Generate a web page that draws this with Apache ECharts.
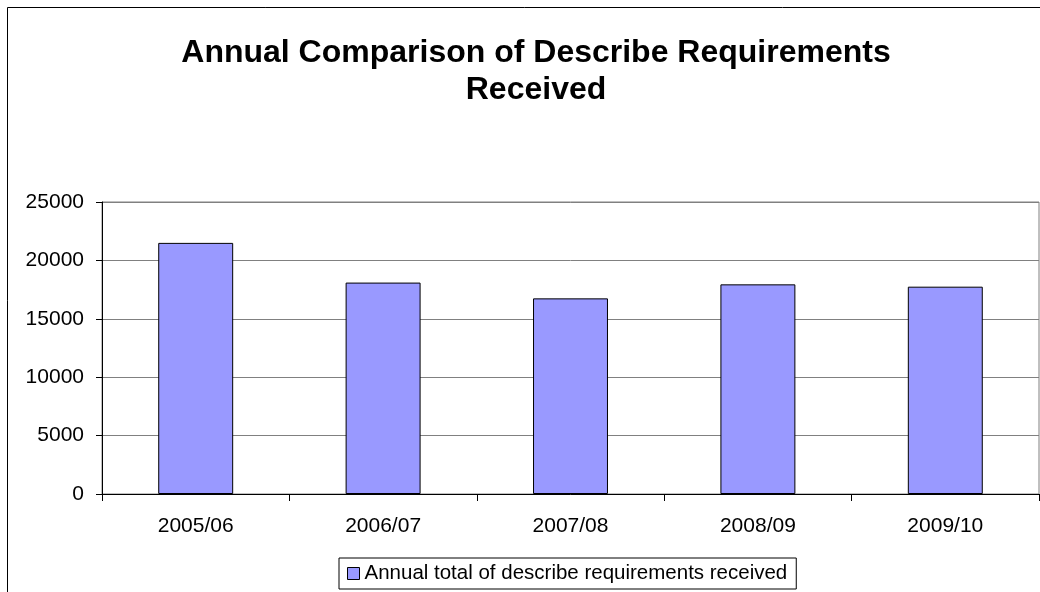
<!DOCTYPE html>
<html>
<head>
<meta charset="utf-8">
<script src="https://cdn.jsdelivr.net/npm/echarts@6/dist/echarts.min.js"></script>
<style>
html,body{margin:0;padding:0;background:#fff;}
#chart{width:1040px;height:592px;}
</style>
</head>
<body>
<div id="chart"></div>
<script>
const titleText = 'Annual Comparison of Describe Requirements\nReceived';
const categories = ['2005/06', '2006/07', '2007/08', '2008/09', '2009/10'];
const seriesName = 'Annual total of describe requirements received';
const seriesValues = [21500, 18100, 16750, 17950, 17750];
const yTicks = [0, 5000, 10000, 15000, 20000, 25000];

const FONT = '"Liberation Sans", Arial, sans-serif';
const chart = echarts.init(document.getElementById('chart'), null, {renderer: 'canvas'});
chart.setOption({
  backgroundColor: '#ffffff',
  animation: false,
  graphic: [{
    type: 'rect',
    shape: {x: 7.5, y: 7.5, width: 1200, height: 1000},
    style: {fill: 'none', stroke: '#000000', lineWidth: 1},
    silent: true,
    z: -10
  }],
  title: {
    text: titleText,
    left: 531,
    textAlign: 'center',
    top: 30,
    textStyle: {fontFamily: FONT, fontSize: 32, fontWeight: 'bold', color: '#000', lineHeight: 37}
  },
  legend: {
    data: [seriesName],
    left: 339,
    top: 558,
    padding: [5, 9, 5, 8],
    borderColor: '#000',
    borderWidth: 1,
    itemWidth: 12,
    itemHeight: 12,
    icon: 'rect',
    itemStyle: {borderColor: '#000', borderWidth: 1},
    textStyle: {fontFamily: FONT, fontSize: 20.5, color: '#000'}
  },
  grid: {
    left: 102, top: 202, right: 1, bottom: 98,
    show: true, borderColor: '#808080', borderWidth: 1
  },
  xAxis: {
    type: 'category',
    data: categories,
    boundaryGap: true,
    axisLine: {show: true, lineStyle: {color: '#000', width: 1}},
    axisTick: {show: true, alignWithLabel: false, length: 7, lineStyle: {color: '#000'}},
    axisLabel: {fontFamily: FONT, fontSize: 21, color: '#000', margin: 22}
  },
  yAxis: {
    type: 'value',
    min: yTicks[0],
    max: yTicks[yTicks.length - 1],
    interval: yTicks[1] - yTicks[0],
    axisLine: {show: true, lineStyle: {color: '#000', width: 1}},
    axisTick: {show: true, length: 6, lineStyle: {color: '#000'}},
    axisLabel: {fontFamily: FONT, fontSize: 21, color: '#000', margin: 18,
      formatter: function (v) { return String(v); }},
    splitLine: {show: true, lineStyle: {color: '#808080', width: 1}}
  },
  series: [{
    name: seriesName,
    type: 'bar',
    data: seriesValues,
    barCategoryGap: '60%',
    itemStyle: {color: '#9999FF', borderColor: '#000', borderWidth: 1}
  }]
});
</script>
</body>
</html>
